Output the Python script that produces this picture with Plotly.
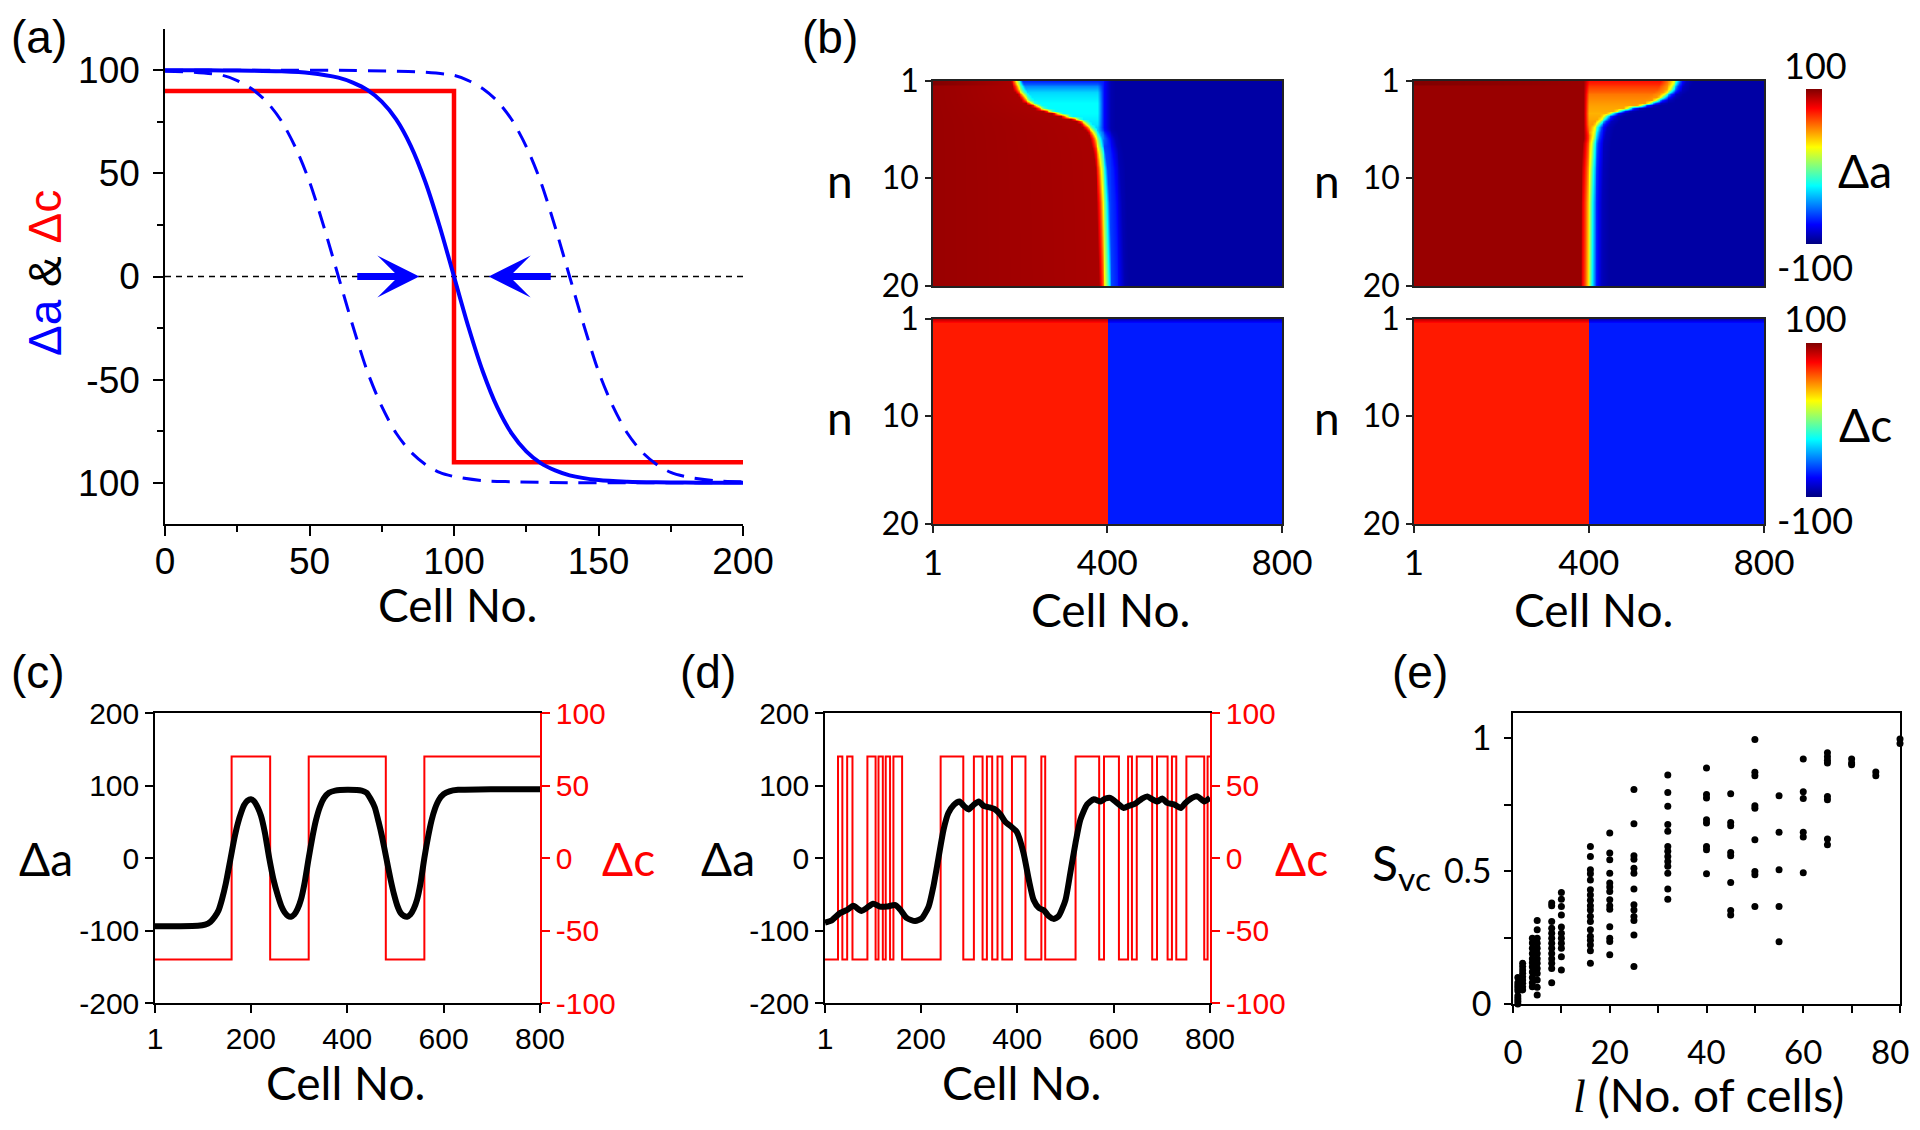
import numpy as np
import plotly.graph_objects as go

W, H = 1904, 1114   # page is 1920x1130 with the 8px body margin around the figure
OFF = 8  # page offset of the plot div
ARIAL = "Liberation Sans, Arial, sans-serif"
CAL = "Lato, Carlito, Calibri, sans-serif"
BLUE = "#0000ff"
RED = "#ff0000"

def fx(p):
    return (p - OFF) / W

def fy(p):
    return 1 - (p - OFF) / H

# ---------------- panel (a) data ----------------
a_solid_x = [0, 10, 20, 30, 40, 50, 60, 65, 70, 75, 80, 85, 90, 95, 100, 105, 110, 115, 120, 125, 130, 135, 140, 150, 160, 170, 180, 190, 200]
a_solid_y = [100, 100, 99.9, 99.8, 99.5, 98.7, 96.4, 94, 90.5, 84.8, 76.2, 63.5, 46.2, 24.5, 0, -24.5, -46.2, -63.5, -76.2, -84.8, -90.5, -94, -96.4, -98.7, -99.5, -99.8, -99.9, -100, -100]
a_dl_x = [0, 10, 20, 25, 30, 35, 40, 45, 50, 55, 60, 65, 70, 75, 80, 85, 90, 95, 100, 110, 120, 140, 160, 200]
a_dl_y = [99.5, 99, 97.5, 95, 91, 85, 76, 63, 46, 24, 0, -24, -46, -63, -76, -85, -91, -95, -97, -99, -99.5, -100, -100, -100]
a_dr_x = [0, 40, 60, 80, 90, 100, 105, 110, 115, 120, 125, 130, 135, 140, 145, 150, 155, 160, 165, 170, 175, 180, 190, 200]
a_dr_y = [100, 100, 100, 99.5, 99, 97.5, 95, 91, 85, 76, 63, 46, 24, 0, -24, -46, -63, -76, -85, -91, -95, -97, -99, -99.5]
a_red_x = [0, 100, 100, 200]
a_red_y = [90, 90, -90, -90]
a_arrow_right = (66, 88)   # tail, tip (Cell No.)
a_arrow_left = (134, 112)

# ---------------- panel (b) data ----------------
hx = np.linspace(1, 800, 400)
hn = np.arange(1, 20.01, 0.25)
# case 1 (left map): position of the red/blue front vs n, and level ahead of it
tl_front_n = [1, 1.8, 2.8, 3.5, 4.2, 4.6, 5.4, 6.2, 7.7, 9.2, 12.3, 20]
tl_front_c = [192, 199, 218, 249, 302, 340, 363, 374, 382, 386, 390, 395]
tl_plat_n = [1, 1.5, 2, 3, 4, 5, 6, 7, 20]
tl_plat_v = [-68, -48, -33, -25, -25, -30, -45, -62, -62]
# case 2 (right map)
tr_front_n = [1, 1.8, 2.6, 3.2, 3.6, 4.2, 5.2, 6.8, 9.2, 12.3, 20]
tr_front_c = [594, 585, 562, 525, 475, 436, 414, 406, 403, 401, 400]
tr_plat_n = [1, 1.6, 2.2, 3, 4, 5, 6, 20]
tr_plat_v = [72, 62, 52, 45, 40, 45, 60, 60]
# Δc maps
dc_x = [1, 400, 401, 800]
dc_n = [1, 1.4, 20]
dc_level = [88, 70, 70]


def tl_row(n):
    f = np.interp(n, tl_front_n, tl_front_c)
    p = np.interp(n, tl_plat_n, tl_plat_v)
    left = 100 if n < 1.3 else 95
    r = max(f + 15, 378)
    kx = [1, f - 14, f - 6, f, f + 6, f + 14, r, r + 12, r + 28, r + 40, 800]
    kv = [left, 92, 60, 20, -10, p, p, -70, -90, -93, -93]
    return np.interp(hx, kx, kv)


def tr_row(n):
    f = np.interp(n, tr_front_n, tr_front_c)
    p = np.interp(n, tr_plat_n, tr_plat_v)
    left = 100 if n < 1.3 else 95
    lb = min(388, f - 20)
    lp = min(399, f - 9)
    kx = [1, lb, lp]
    kv = [left, 95, p]
    if f - 30 > lp + 1:
        kx.append(f - 30)
        kv.append(p)
    if f - 10 > lp + 1:
        kx.append(f - 10)
        kv.append(min(p, 45))
    kx += [f, f + 7, f + 15, f + 28, f + 45, 800]
    kv += [20, -25, -65, -88, -93, -93]
    return np.interp(hx, kx, kv)


z_tl = [tl_row(n).tolist() for n in hn]
z_tr = [tr_row(n).tolist() for n in hn]
z_dc = [[v, v, -v, -v] for v in dc_level]

JET = [[0, "rgb(0,0,128)"], [0.125, "rgb(0,0,255)"], [0.375, "rgb(0,255,255)"],
       [0.625, "rgb(255,255,0)"], [0.875, "rgb(255,0,0)"], [1, "rgb(128,0,0)"]]

# ---------------- panel (c) data ----------------
c_x = [1, 50, 90, 105, 116, 125, 133, 140, 148, 158, 166, 173, 180, 186, 193, 200, 207, 214, 221, 229, 238, 247, 256, 263, 270, 277, 283, 290, 297, 304, 311, 320, 328, 335, 343, 352, 362, 375, 400, 430, 440, 448, 457, 465, 472, 481, 490, 497, 504, 511, 518, 524, 531, 538, 545, 552, 560, 568, 575, 582, 590, 600, 612, 630, 700, 800]
c_da = [-94, -94, -93.5, -92, -88, -81, -72, -57, -35, 0, 28, 48, 63, 73, 79, 81, 78, 70, 58, 35, 0, -30, -52, -66, -75, -80, -81, -78, -70, -57, -36, 0, 30, 52, 70, 83, 90, 93, 94, 93, 90, 82, 70, 50, 30, 0, -30, -50, -66, -76, -80, -81, -78, -70, -57, -35, 0, 30, 52, 68, 80, 88, 92, 94, 95, 95]
c_dc_x = [1, 160, 240, 320, 480, 560, 800]
c_dc = [-70, 70, -70, 70, -70, 70, 70]

# ---------------- panel (d) data ----------------
d_x = [1, 15, 32, 46, 60, 77, 101, 115, 129, 147, 157, 171, 188, 202, 216, 226, 237, 247, 257, 268, 280, 289, 299, 309, 320, 330, 341, 354, 365, 375, 386, 399, 413, 424, 434, 445, 455, 465, 476, 486, 500, 510, 521, 531, 545, 559, 573, 583, 593, 607, 621, 632, 645, 659, 670, 680, 691, 701, 711, 725, 739, 749, 763, 774, 788, 800]
d_da = [-89, -86, -76, -72, -66, -73, -63, -67, -67, -65, -71, -83, -87, -83, -67, -39, 2, 39, 62, 73, 78, 72, 67, 73, 78, 72, 70, 67, 60, 50, 44, 36, 7, -30, -58, -69, -72, -80, -84, -80, -58, -21, 21, 53, 74, 81, 78, 82, 83, 76, 69, 72, 75, 82, 85, 81, 78, 82, 76, 74, 69, 76, 83, 85, 78, 83]
d_dc_x = [1, 28, 37, 47, 58, 89, 106, 112, 121, 127, 136, 143, 161, 241, 288, 310, 328, 337, 348, 359, 369, 389, 417, 450, 458, 521, 570, 580, 611, 630, 638, 648, 680, 690, 712, 721, 730, 751, 788, 795, 800]
d_dc = [-70, 70, -70, 70, -70, 70, -70, 70, -70, 70, -70, 70, -70, 70, -70, 70, -70, 70, -70, 70, -70, 70, -70, 70, -70, 70, -70, 70, -70, 70, -70, 70, -70, 70, -70, 70, -70, 70, -70, 70, 70]

# ---------------- panel (e) data ----------------
e_l_values = [1, 2, 4, 5, 8, 10, 16, 20, 25, 32, 40, 45, 50, 55, 60, 65, 70, 75, 80]
e_s_values = [
    [0.0, 0.01, 0.02, 0.03, 0.05, 0.06, 0.07, 0.08, 0.10],
    [0.053, 0.065, 0.078, 0.09, 0.103, 0.116, 0.128, 0.141, 0.153],
    [0.065, 0.08, 0.1, 0.12, 0.14, 0.155, 0.17, 0.19, 0.21, 0.23, 0.247],
    [0.034, 0.063, 0.09, 0.115, 0.134, 0.153, 0.17, 0.19, 0.21, 0.229, 0.247, 0.279, 0.314],
    [0.08, 0.134, 0.153, 0.17, 0.19, 0.21, 0.229, 0.247, 0.266, 0.285, 0.31, 0.37, 0.38],
    [0.128, 0.178, 0.21, 0.229, 0.247, 0.266, 0.29, 0.335, 0.367, 0.394, 0.42],
    [0.153, 0.2, 0.222, 0.24, 0.255, 0.279, 0.31, 0.33, 0.354, 0.37, 0.39, 0.41, 0.43, 0.467, 0.49, 0.505, 0.555, 0.593],
    [0.185, 0.235, 0.247, 0.291, 0.357, 0.37, 0.392, 0.423, 0.44, 0.455, 0.492, 0.543, 0.568, 0.643],
    [0.141, 0.26, 0.314, 0.329, 0.354, 0.373, 0.433, 0.492, 0.511, 0.545, 0.558, 0.678, 0.807],
    [0.394, 0.433, 0.492, 0.518, 0.536, 0.555, 0.575, 0.593, 0.65, 0.675, 0.744, 0.796, 0.862],
    [0.49, 0.58, 0.593, 0.681, 0.693, 0.775, 0.788, 0.888],
    [0.335, 0.352, 0.457, 0.558, 0.57, 0.671, 0.683, 0.791],
    [0.367, 0.486, 0.499, 0.618, 0.737, 0.746, 0.859, 0.872, 0.995],
    [0.234, 0.367, 0.505, 0.646, 0.784],
    [0.494, 0.628, 0.646, 0.773, 0.799, 0.922],
    [0.599, 0.621, 0.769, 0.781, 0.907, 0.917, 0.93, 0.945],
    [0.9, 0.907, 0.922],
    [0.859, 0.873],
    [0.98, 0.997],
]
e_x = [l for l, col in zip(e_l_values, e_s_values) for _ in col]
e_y = [s for col in e_s_values for s in col]

# ---------------- figure ----------------
fig = go.Figure()

# panel (a)
fig.add_trace(go.Scatter(x=[0, 200], y=[0, 0], mode="lines", line=dict(color="black", width=1.5, dash="6px,5px"), xaxis="x", yaxis="y"))
fig.add_trace(go.Scatter(x=a_red_x, y=a_red_y, mode="lines", line=dict(color=RED, width=4.5), xaxis="x", yaxis="y"))
fig.add_trace(go.Scatter(x=a_dl_x, y=a_dl_y, mode="lines", line=dict(color=BLUE, width=3, dash="18px,11px", shape="spline", smoothing=0.8), xaxis="x", yaxis="y"))
fig.add_trace(go.Scatter(x=a_dr_x, y=a_dr_y, mode="lines", line=dict(color=BLUE, width=3, dash="18px,11px", shape="spline", smoothing=0.8), xaxis="x", yaxis="y"))
fig.add_trace(go.Scatter(x=a_solid_x, y=a_solid_y, mode="lines", line=dict(color=BLUE, width=4, shape="spline", smoothing=0.8), xaxis="x", yaxis="y"))

# panel (b)
fig.add_trace(go.Heatmap(x=hx, y=hn, z=z_tl, coloraxis="coloraxis", zsmooth="best", xaxis="x2", yaxis="y2"))
fig.add_trace(go.Heatmap(x=dc_x, y=dc_n, z=z_dc, coloraxis="coloraxis2", zsmooth="best", xaxis="x3", yaxis="y3"))
fig.add_trace(go.Heatmap(x=hx, y=hn, z=z_tr, coloraxis="coloraxis", zsmooth="best", xaxis="x4", yaxis="y4"))
fig.add_trace(go.Heatmap(x=dc_x, y=dc_n, z=z_dc, coloraxis="coloraxis2", zsmooth="best", xaxis="x5", yaxis="y5"))

# panel (c)
fig.add_trace(go.Scatter(x=c_dc_x, y=c_dc, mode="lines", line=dict(color=RED, width=2, shape="hv"), xaxis="x6", yaxis="y6"))
fig.add_trace(go.Scatter(x=c_x, y=c_da, mode="lines", line=dict(color="black", width=6, shape="spline", smoothing=0.6), xaxis="x6", yaxis="y7"))

# panel (d)
fig.add_trace(go.Scatter(x=d_dc_x, y=d_dc, mode="lines", line=dict(color=RED, width=2, shape="hv"), xaxis="x8", yaxis="y8"))
fig.add_trace(go.Scatter(x=d_x, y=d_da, mode="lines", line=dict(color="black", width=6, shape="spline", smoothing=0.6), xaxis="x8", yaxis="y9"))

# panel (e)
fig.add_trace(go.Scatter(x=e_x, y=e_y, mode="markers", marker=dict(color="black", size=7), cliponaxis=False, xaxis="x10", yaxis="y10"))

axis_common = dict(showline=True, linecolor="black", linewidth=1.5, showgrid=False, zeroline=False, automargin=False,
                   ticks="outside", tickcolor="black", tickwidth=1.5)

layout = dict(
    template="none",
    width=W, height=H, margin=dict(l=0, r=0, t=0, b=0, autoexpand=False),
    paper_bgcolor="white", plot_bgcolor="white", showlegend=False,
    font=dict(family=ARIAL, color="black"),
    # panel (a)
    xaxis=dict(axis_common, domain=[fx(165), fx(743)], range=[0, 200], tickvals=[0, 50, 100, 150, 200], ticklen=10,
               ticklabelstandoff=-6, tickfont=dict(family=ARIAL, size=37, color="black"), anchor="y",
               minor=dict(ticks="outside", ticklen=6, tickwidth=1.5, tickcolor="black", dtick=25, tick0=0)),
    yaxis=dict(axis_common, domain=[fy(524), fy(29)], range=[-120, 120], tickvals=[-100, -50, 0, 50, 100],
               ticktext=["100", "-50", "0", "50", "100"], ticklen=10, ticklabelstandoff=6,
               tickfont=dict(family=ARIAL, size=37, color="black"), anchor="x",
               minor=dict(ticks="outside", ticklen=6, tickwidth=1.5, tickcolor="black", dtick=25, tick0=0)),
)

hm_x = dict(showline=True, linecolor="#222", linewidth=1.5, mirror=True, showgrid=False, zeroline=False, automargin=False,
            range=[1, 800], tickvals=[1, 400, 800], tickfont=dict(family=CAL, size=35, color="black"))
hm_y = dict(showline=True, linecolor="#222", linewidth=1.5, mirror=True, showgrid=False, zeroline=False, automargin=False,
            range=[20, 1], tickvals=[1, 10, 20], ticks="outside", ticklen=6, tickwidth=1.5, tickcolor="#222",
            tickfont=dict(family=CAL, size=32, color="black"))
top_dom = [fy(286), fy(81)]
bot_dom = [fy(524), fy(319)]
left_dom = [fx(933), fx(1282)]
right_dom = [fx(1414), fx(1764)]
cb_common = dict(x=fx(1806), xanchor="left", yanchor="top", lenmode="pixels", thickness=16, thicknessmode="pixels",
                 outlinewidth=0, showticklabels=False, ticks="", xpad=0, ypad=0)
layout.update(
    xaxis2=dict(hm_x, domain=left_dom, anchor="y2", showticklabels=False, ticks=""),
    yaxis2=dict(hm_y, domain=top_dom, anchor="x2"),
    xaxis3=dict(hm_x, domain=left_dom, anchor="y3", ticks="outside", ticklen=7, tickwidth=1.5, tickcolor="#222", ticklabelstandoff=0),
    yaxis3=dict(hm_y, domain=bot_dom, anchor="x3"),
    xaxis4=dict(hm_x, domain=right_dom, anchor="y4", showticklabels=False, ticks=""),
    yaxis4=dict(hm_y, domain=top_dom, anchor="x4"),
    xaxis5=dict(hm_x, domain=right_dom, anchor="y5", ticks="outside", ticklen=7, tickwidth=1.5, tickcolor="#222", ticklabelstandoff=0),
    yaxis5=dict(hm_y, domain=bot_dom, anchor="x5"),
    coloraxis=dict(colorscale=JET, cmin=-100, cmax=100, colorbar=dict(cb_common, y=fy(89), len=155)),
    coloraxis2=dict(colorscale=JET, cmin=-100, cmax=100, colorbar=dict(cb_common, y=fy(343), len=154)),
)

cd_dom_y = [fy(1003), fy(713)]
def cd_axes(xd, xn, yb, yo):
    return {
        f"xaxis{xn}": dict(axis_common, domain=xd, range=[1, 800], tickvals=[1, 200, 400, 600, 800], ticklen=8,
                           mirror=True, anchor=f"y{yb}", tickfont=dict(family=ARIAL, size=30, color="black")),
        f"yaxis{yb}": dict(showline=True, linecolor=RED, linewidth=1.5, showgrid=False, zeroline=False, side="right",
                           automargin=False, ticks="outside", ticklen=8, tickwidth=1.5, tickcolor=RED, domain=cd_dom_y,
                           range=[-100, 100], tickvals=[-100, -50, 0, 50, 100],
                           ticktext=["-100", "-50", "0", "50", "100"], anchor=f"x{xn}",
                           tickfont=dict(family=ARIAL, size=30, color=RED)),
        f"yaxis{yo}": dict(axis_common, overlaying=f"y{yb}", side="left", range=[-200, 200],
                           tickvals=[-200, -100, 0, 100, 200], ticktext=["-200", "-100", "0", "100", "200"],
                           ticklen=8, anchor=f"x{xn}", tickfont=dict(family=ARIAL, size=30, color="black")),
    }

layout.update(cd_axes([fx(155), fx(540)], 6, 6, 7))
layout.update(cd_axes([fx(825), fx(1210)], 8, 8, 9))

e_tick_labels = ["0", "", "20", "", "40", "", "60", "", ""]   # the last label ("80") is placed at the page edge below
layout.update(
    xaxis10=dict(axis_common, domain=[fx(1513), fx(1900)], range=[0, 80], tickvals=list(range(0, 81, 10)),
                 ticktext=e_tick_labels, ticklen=7, mirror=True, anchor="y10",
                 ticklabelstandoff=12, tickfont=dict(family=CAL, size=33, color="black")),
    yaxis10=dict(axis_common, domain=[fy(1004), fy(713)], range=[0, 1.095], tickvals=[0, 0.25, 0.5, 0.75, 1],
                 ticktext=["0", "", "0.5", "", "1"], ticklen=7, mirror=True, anchor="x10", ticklabelstandoff=6,
                 tickfont=dict(family=CAL, size=34, color="black")),
)

fig.update_layout(layout)

ann = []
def txt(s, x, y, size, family=CAL, color="black", angle=0, xanchor="center"):
    ann.append(dict(text=s, x=fx(x), y=fy(y), xref="paper", yref="paper", showarrow=False,
                    xanchor=xanchor, yanchor="middle", textangle=angle,
                    font=dict(family=family, size=size, color=color)))

txt("(a)", 39, 37, 46, ARIAL)
txt("(b)", 830, 37, 46, ARIAL)
txt("(c)", 38, 672, 46, ARIAL)
txt("(d)", 708, 672, 46, ARIAL)
txt("(e)", 1420, 672, 46, ARIAL)

txt("Cell No.", 457, 604, 46)
txt('<span style="color:#0000ff">Δa</span> & <span style="color:#ff0000">Δc</span>', 45, 273, 46, ARIAL, angle=-90)

for xx in (840, 1327):
    txt("n", xx, 180, 46)
    txt("n", xx, 418, 46)
txt("Cell No.", 1110, 609, 46)
txt("Cell No.", 1593, 609, 46)
txt("100", 1815, 65, 36)
txt("-100", 1815, 267, 36)
txt("Δa", 1865, 171, 46)
txt("100", 1815, 318, 36)
txt("-100", 1815, 520, 36)
txt("Δc", 1865, 424, 46)

txt("Δa", 46, 858, 46)
txt("Δc", 628, 858, 46, color=RED)
txt("Cell No.", 345, 1082, 46)
txt("Δa", 728, 858, 46)
txt("Δc", 1301, 858, 46, color=RED)
txt("Cell No.", 1021, 1082, 46)

txt("S<sub>vc</sub>", 1401, 866, 48)
txt('<span style="font-family:Liberation Serif;font-style:italic">l</span> (No. of cells)', 1708, 1094, 46)
txt("80", 1911, 1051, 33, xanchor="right")

for tail, tip in (a_arrow_right, a_arrow_left):
    ann.append(dict(x=tip, y=0, ax=tail, ay=0, xref="x", yref="y", axref="x", ayref="y", text="",
                    showarrow=True, arrowhead=3, arrowsize=1, arrowwidth=7, arrowcolor=BLUE, standoff=0))

fig.update_layout(annotations=ann)
fig.write_html("out.html")
